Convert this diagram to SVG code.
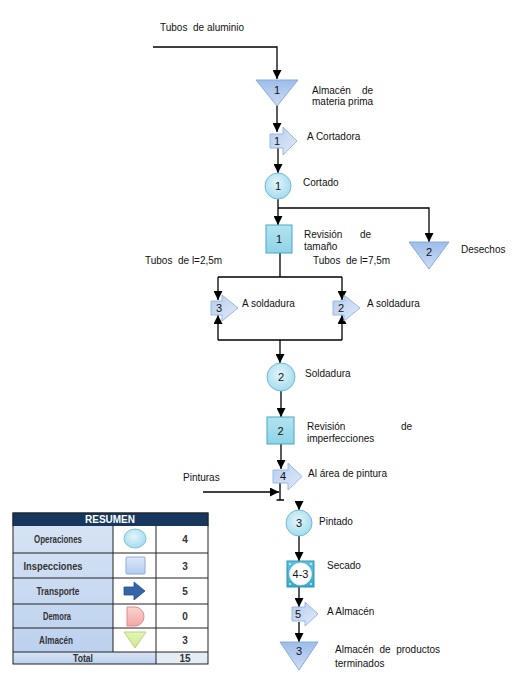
<svg xmlns="http://www.w3.org/2000/svg" width="523" height="698" viewBox="0 0 523 698">
<defs>
<marker id="ah" markerUnits="userSpaceOnUse" markerWidth="9" markerHeight="9" refX="9" refY="4.5" orient="auto"><path d="M0,0 L9,4.5 L0,9 Z" fill="#000"/></marker>
<linearGradient id="gTri" x1="0" y1="0" x2="0" y2="1"><stop offset="0" stop-color="#9dbde9"/><stop offset="1" stop-color="#cddcf3"/></linearGradient>
<radialGradient id="gCir" cx="0.45" cy="0.4" r="0.6"><stop offset="0" stop-color="#e2f5fb"/><stop offset="1" stop-color="#a6dcee"/></radialGradient>
<linearGradient id="gSq" x1="0" y1="0" x2="0" y2="1"><stop offset="0" stop-color="#b3e3f0"/><stop offset="1" stop-color="#8fd3e8"/></linearGradient>
<linearGradient id="gArr" x1="0" y1="0" x2="1" y2="1"><stop offset="0" stop-color="#b4cbee"/><stop offset="1" stop-color="#e3ecf9"/></linearGradient>
<linearGradient id="gCell" x1="0" y1="0" x2="0" y2="1"><stop offset="0" stop-color="#d6e3f4"/><stop offset="1" stop-color="#bcd1ee"/></linearGradient>
<linearGradient id="gIcoSq" x1="0" y1="0" x2="0" y2="1"><stop offset="0" stop-color="#dde8f8"/><stop offset="1" stop-color="#b3cbef"/></linearGradient>
<linearGradient id="gIcoD" x1="0" y1="0" x2="0" y2="1"><stop offset="0" stop-color="#fbd3d3"/><stop offset="1" stop-color="#f3a5a5"/></linearGradient>
<linearGradient id="gIcoT" x1="0" y1="0" x2="0" y2="1"><stop offset="0" stop-color="#e3f5b8"/><stop offset="1" stop-color="#cde98c"/></linearGradient>
<linearGradient id="gComb" x1="0" y1="0" x2="0" y2="1"><stop offset="0" stop-color="#5cc3dd"/><stop offset="1" stop-color="#3aa9c8"/></linearGradient>
</defs>
<style>
.t{font-family:"Liberation Sans",Arial,sans-serif;font-size:10px;fill:#111}
.n{font-family:"Liberation Sans",Arial,sans-serif;font-size:11px;fill:#111;text-anchor:middle}
.tri{fill:url(#gTri);stroke:#86a9dc;stroke-width:1}
.cir{fill:url(#gCir);stroke:#6bbcd6;stroke-width:1}
.sq{fill:url(#gSq);stroke:#45a9c4;stroke-width:1}
.arr{fill:url(#gArr);stroke:#98b8e2;stroke-width:1}
.ln{fill:none;stroke:#000;stroke-width:1.3}
.la{fill:none;stroke:#000;stroke-width:1.3;marker-end:url(#ah)}
.tb{font-family:"Liberation Sans",Arial,sans-serif;font-size:10px;font-weight:bold;fill:#333;text-anchor:middle}
.cell{stroke:#222;stroke-width:1}
</style>

<g id="connectors">
<path class="la" d="M153,47 H277 V79"/>
<path class="la" d="M277,105 V132"/>
<path class="la" d="M278,148 V173"/>
<path class="la" d="M278,199 V225"/>
<path class="la" d="M278,208 H429 V242"/>
<path class="ln" d="M280,253 V277 M218,277 H342"/>
<path class="la" d="M218,277 V300"/>
<path class="la" d="M342,277 V300"/>
<path class="la" d="M218,340 V315"/>
<path class="la" d="M342,340 V315"/>
<path class="ln" d="M218,340 H342"/>
<path class="la" d="M280,340 V363"/>
<path class="la" d="M281,391 V417"/>
<path class="la" d="M281,444 V469"/>
<path class="ln" d="M280,483 V500 M276.5,500 H284"/>
<path class="la" d="M203,492 H279"/>
<path class="la" d="M299,502 V510"/>
<path class="la" d="M299,536 V561"/>
<path class="la" d="M299,587 V607"/>
<path class="la" d="M299,622 V642"/>
</g>

<g id="in-tubos"><text class="t" x="160" y="31" xml:space="preserve">Tubos  de aluminio</text></g>

<g id="almacen1">
<path class="tri" d="M256,80 H298 L277,106 Z"/>
<text class="n" x="277" y="94">1</text>
<text class="t" x="312" y="94">Almacén</text><text class="t" x="373" y="94" text-anchor="end">de</text>
<text class="t" x="312" y="105">materia prima</text>
</g>

<g id="transporte1">
<path class="arr" d="M270,134 H283 V127 L297,141 L283,155 V148 H270 Z"/>
<text class="n" x="277" y="145">1</text>
<text class="t" x="307" y="140">A Cortadora</text>
</g>

<g id="operacion1">
<circle class="cir" cx="278" cy="186" r="13"/>
<text class="n" x="278" y="190">1</text>
<text class="t" x="303" y="186">Cortado</text>
</g>

<g id="inspeccion1">
<rect class="sq" x="266" y="225" width="26" height="28"/>
<text class="n" x="279" y="243">1</text>
<text class="t" x="304" y="238">Revisión</text><text class="t" x="371" y="238" text-anchor="end">de</text>
<text class="t" x="304" y="250">tamaño</text>
</g>

<g id="desechos">
<path class="tri" d="M409,242 H449 L429,269 Z"/>
<text class="n" x="429" y="256">2</text>
<text class="t" x="461" y="253">Desechos</text>
</g>

<g id="labels-tubos">
<text class="t" x="145" y="264" xml:space="preserve">Tubos  de l=2,5m</text>
<text class="t" x="313" y="264" xml:space="preserve">Tubos  de l=7,5m</text>
</g>

<g id="transporte3">
<path class="arr" d="M211,301 H222 V295 L238,308 L222,321 V315 H211 Z"/>
<text class="n" x="219" y="312">3</text>
<text class="t" x="242" y="307">A soldadura</text>
</g>

<g id="transporte2">
<path class="arr" d="M333,301 H344 V295 L360,308 L344,321 V315 H333 Z"/>
<text class="n" x="341" y="312">2</text>
<text class="t" x="367" y="307">A soldadura</text>
</g>

<g id="operacion2">
<circle class="cir" cx="281" cy="377" r="14"/>
<text class="n" x="281" y="381">2</text>
<text class="t" x="305" y="377">Soldadura</text>
</g>

<g id="inspeccion2">
<rect class="sq" x="267" y="417" width="27" height="27"/>
<text class="n" x="280.5" y="435">2</text>
<text class="t" x="307" y="430">Revisión</text><text class="t" x="412" y="430" text-anchor="end">de</text>
<text class="t" x="307" y="442">imperfecciones</text>
</g>

<g id="transporte4">
<path class="arr" d="M273,470 H288 V463 L302,476.5 L288,490 V483 H273 Z"/>
<text class="n" x="283" y="480">4</text>
<text class="t" x="308" y="477">Al área de pintura</text>
</g>

<g id="pinturas"><text class="t" x="183" y="481">Pinturas</text></g>

<g id="operacion3">
<circle class="cir" cx="299" cy="523" r="13"/>
<text class="n" x="299" y="527">3</text>
<text class="t" x="319" y="525">Pintado</text>
</g>

<g id="combinada43">
<rect x="287" y="561" width="27" height="26" fill="url(#gComb)" stroke="#2f94b3" stroke-width="1"/>
<circle cx="300.5" cy="574" r="11" fill="#fff" stroke="#e6f4f9" stroke-width="0.8"/>
<circle cx="290" cy="564" r="0.9" fill="#e6f6fb"/><circle cx="311" cy="564" r="0.9" fill="#e6f6fb"/>
<circle cx="290" cy="584" r="0.9" fill="#e6f6fb"/><circle cx="311" cy="584" r="0.9" fill="#e6f6fb"/>
<text class="n" x="300.5" y="578">4-3</text>
<text class="t" x="327" y="569">Secado</text>
</g>

<g id="transporte5">
<path class="arr" d="M292,607 H305 V602 L318,614 L305,626 V621 H292 Z"/>
<text class="n" x="298" y="618">5</text>
<text class="t" x="327" y="615">A Almacén</text>
</g>

<g id="almacen3">
<path class="tri" d="M280,642 H318 L299,670 Z"/>
<text class="n" x="299" y="655">3</text>
<text class="t" x="335" y="653" xml:space="preserve">Almacén  de  productos</text>
<text class="t" x="335" y="667">terminados</text>
</g>

<g id="resumen">
<rect x="13" y="513" width="195" height="13" fill="#17375e" stroke="#17375e"/>
<text x="110" y="523" font-family="'Liberation Sans',Arial,sans-serif" font-size="10" font-weight="bold" fill="#fff" text-anchor="middle" textLength="50" lengthAdjust="spacingAndGlyphs">RESUMEN</text>
<rect x="13" y="526" width="100" height="126" fill="url(#gCell)"/>
<rect x="13" y="652" width="143" height="12" fill="url(#gCell)"/>
<rect x="113" y="526" width="95" height="126" fill="#fff"/>
<rect x="156" y="652" width="52" height="12" fill="#e4ecf6"/>
<g class="cell" fill="none">
<rect x="13" y="513" width="195" height="151"/>
<path d="M13,553 H208 M13,578 H208 M13,604 H208 M13,628 H208 M13,652 H208 M113,526 V652 M156,526 V664"/>
</g>
<text class="tb" x="58" y="543" textLength="48" lengthAdjust="spacingAndGlyphs">Operaciones</text>
<text class="tb" x="53" y="570" textLength="59" lengthAdjust="spacingAndGlyphs">Inspecciones</text>
<text class="tb" x="58" y="595" textLength="43" lengthAdjust="spacingAndGlyphs">Transporte</text>
<text class="tb" x="57" y="620" textLength="28" lengthAdjust="spacingAndGlyphs">Demora</text>
<text class="tb" x="56" y="644" textLength="34" lengthAdjust="spacingAndGlyphs">Almacén</text>
<text class="tb" x="83" y="662" textLength="20" lengthAdjust="spacingAndGlyphs">Total</text>
<text class="tb" x="185" y="543">4</text>
<text class="tb" x="185" y="570">3</text>
<text class="tb" x="185" y="595">5</text>
<text class="tb" x="185" y="620">0</text>
<text class="tb" x="185" y="644">3</text>
<text class="tb" x="185" y="662">15</text>
<ellipse cx="135" cy="538.5" rx="11" ry="9.5" fill="url(#gCir)" stroke="#7cc6dd"/>
<rect x="126" y="557" width="19" height="17" rx="1" fill="url(#gIcoSq)" stroke="#8aaedf"/>
<path d="M124,587 H134 V582 L145,591 L134,600 V595 H124 Z" fill="#3465a8" stroke="#284f87" stroke-width="0.8"/>
<path d="M127,607 H135 A9,9.5 0 0 1 135,626 H127 Z" fill="url(#gIcoD)" stroke="#e08a8a"/>
<path d="M124,632 H146 L135,648 Z" fill="url(#gIcoT)" stroke="#b6d47a"/>
</g>
</svg>
